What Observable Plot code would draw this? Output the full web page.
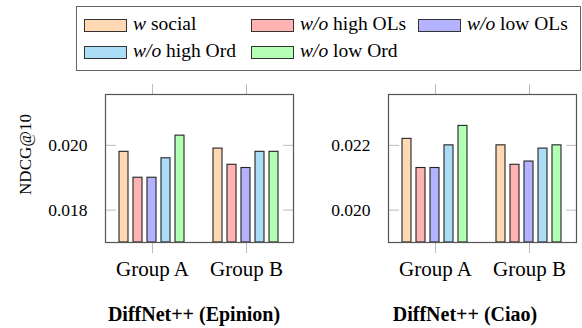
<!DOCTYPE html>
<html>
<head>
<meta charset="utf-8">
<script src="https://cdn.jsdelivr.net/npm/d3@7"></script>
<script src="https://cdn.jsdelivr.net/npm/@observablehq/plot@0.6"></script>
<style>
  html, body { margin: 0; padding: 0; background: #fff; }
  #root { position: relative; width: 582px; height: 328px; overflow: hidden; font-family: 'Liberation Serif', serif; color: #000; }
  .legend { position: absolute; left: 76px; top: 6px; width: 503px; height: 63px; border: 1.5px solid #666; }
  .sw { position: absolute; width: 41px; height: 11px; border: 1px solid #333; }
  .lt { position: absolute; font-size: 19.5px; line-height: 19px; white-space: nowrap; }
  .panel { position: absolute; top: 80px; }
  .title { position: absolute; font-weight: bold; font-size: 20px; line-height: 20px; text-align: center; white-space: nowrap; }
  .ylab { position: absolute; font-size: 17px; line-height: 17px; text-align: center; white-space: nowrap; transform: rotate(-90deg); }
</style>
</head>
<body>
<div id="root"></div>
<script>
const groups = ["Group A", "Group B"];
const series = ["w social", "w/o high OLs", "w/o low OLs", "w/o high Ord", "w/o low Ord"];
const seriesHtml = ["<i>w</i> social", "<i>w/o</i> high OLs", "<i>w/o</i> low OLs", "<i>w/o</i> high Ord", "<i>w/o</i> low Ord"];
const colors = ["#FFD9B3", "#FFB3B3", "#B3B3FF", "#ABDDF7", "#B3FFB3"];

const epinionA = [0.0198, 0.0190, 0.0190, 0.0196, 0.0203];
const epinionB = [0.0199, 0.0194, 0.0193, 0.0198, 0.0198];
const ciaoA = [0.0222, 0.0213, 0.0213, 0.0220, 0.0226];
const ciaoB = [0.0220, 0.0214, 0.0215, 0.0219, 0.0220];

const epinionDomain = [0.0170, 0.02157];
const ciaoDomain = [0.0190, 0.02357];
const epinionTicks = [0.018, 0.020];
const ciaoTicks = [0.020, 0.022];

const yLabel = "NDCG@10";
const titles = ["DiffNet++ (Epinion)", "DiffNet++ (Ciao)"];

const root = document.getElementById("root");

// Legend (HTML)
const legend = document.createElement("div");
legend.className = "legend";
root.appendChild(legend);
const legPos = [
  {sx: 84, tx: 133, row: 0},
  {sx: 251, tx: 300, row: 0},
  {sx: 418, tx: 467, row: 0},
  {sx: 84, tx: 133, row: 1},
  {sx: 251, tx: 300, row: 1}
];
series.forEach((s, i) => {
  const p = legPos[i];
  const sw = document.createElement("div");
  sw.className = "sw";
  sw.style.left = (p.sx) + "px";
  sw.style.top = (19 + p.row * 27) + "px";
  sw.style.background = colors[i];
  root.appendChild(sw);
  const t = document.createElement("div");
  t.className = "lt";
  t.style.left = p.tx + "px";
  t.style.top = (14 + p.row * 27) + "px";
  t.innerHTML = seriesHtml[i];
  root.appendChild(t);
});

function panel(valsA, valsB, yDomain, yTicks, marginLeft, width) {
  const data = [];
  series.forEach((s, i) => {
    data.push({group: groups[0], series: s, value: valsA[i]});
    data.push({group: groups[1], series: s, value: valsB[i]});
  });
  return Plot.plot({
    width, height: 220,
    marginLeft, marginRight: width - marginLeft - 189, marginTop: 14, marginBottom: 58,
    style: {fontFamily: "'Liberation Serif', serif", fontSize: "17px", color: "black", background: "transparent", overflow: "visible"},
    fx: {domain: groups, paddingInner: 0, paddingOuter: 0, label: null},
    x: {domain: series, paddingInner: 1/3, paddingOuter: 0.817, axis: null},
    y: {domain: yDomain},
    color: {domain: series, range: colors},
    marks: [
      Plot.barY(data, {fx: "group", x: "series", y1: yDomain[0], y2: "value", fill: "series", stroke: "#222", strokeWidth: 1.1}),
      Plot.axisY({anchor: "left", ticks: yTicks, tickSize: -11, fill: "none", stroke: "#bbb", label: null}),
      Plot.axisY({anchor: "right", ticks: yTicks, tickSize: -11, fill: "none", stroke: "#bbb", label: null}),
      Plot.axisY({anchor: "left", ticks: yTicks, tickSize: 0, tickPadding: 18, tickFormat: d3.format(".3f"), fontSize: 17.5, label: null}),
      Plot.axisFx({anchor: "top", tickSize: 11, fill: "none", stroke: "#bbb", label: null}),
      Plot.axisFx({anchor: "bottom", tickSize: 11, tickPadding: 8, stroke: "#bbb", fill: "black", fontSize: 21, label: null}),
      Plot.frame({facet: "super", stroke: "#555", strokeWidth: 1.2})
    ]
  });
}

const p1 = panel(epinionA, epinionB, epinionDomain, epinionTicks, 104, 300);
p1.classList.add("panel");
p1.style.left = "0px";
root.appendChild(p1);

const p2 = panel(ciaoA, ciaoB, ciaoDomain, ciaoTicks, 87, 282);
p2.classList.add("panel");
p2.style.left = "300px";
root.appendChild(p2);

// y label
const yl = document.createElement("div");
yl.className = "ylab";
yl.style.width = "120px";
yl.style.height = "17px";
yl.style.left = (25 - 60) + "px";
yl.style.top = (154 - 8.5) + "px";
yl.textContent = yLabel;
root.appendChild(yl);

// titles
[[194, titles[0]], [465, titles[1]]].forEach(([cx, txt]) => {
  const d = document.createElement("div");
  d.className = "title";
  d.style.width = "260px";
  d.style.left = (cx - 130) + "px";
  d.style.top = "304px";
  d.textContent = txt;
  root.appendChild(d);
});
</script>
</body>
</html>
